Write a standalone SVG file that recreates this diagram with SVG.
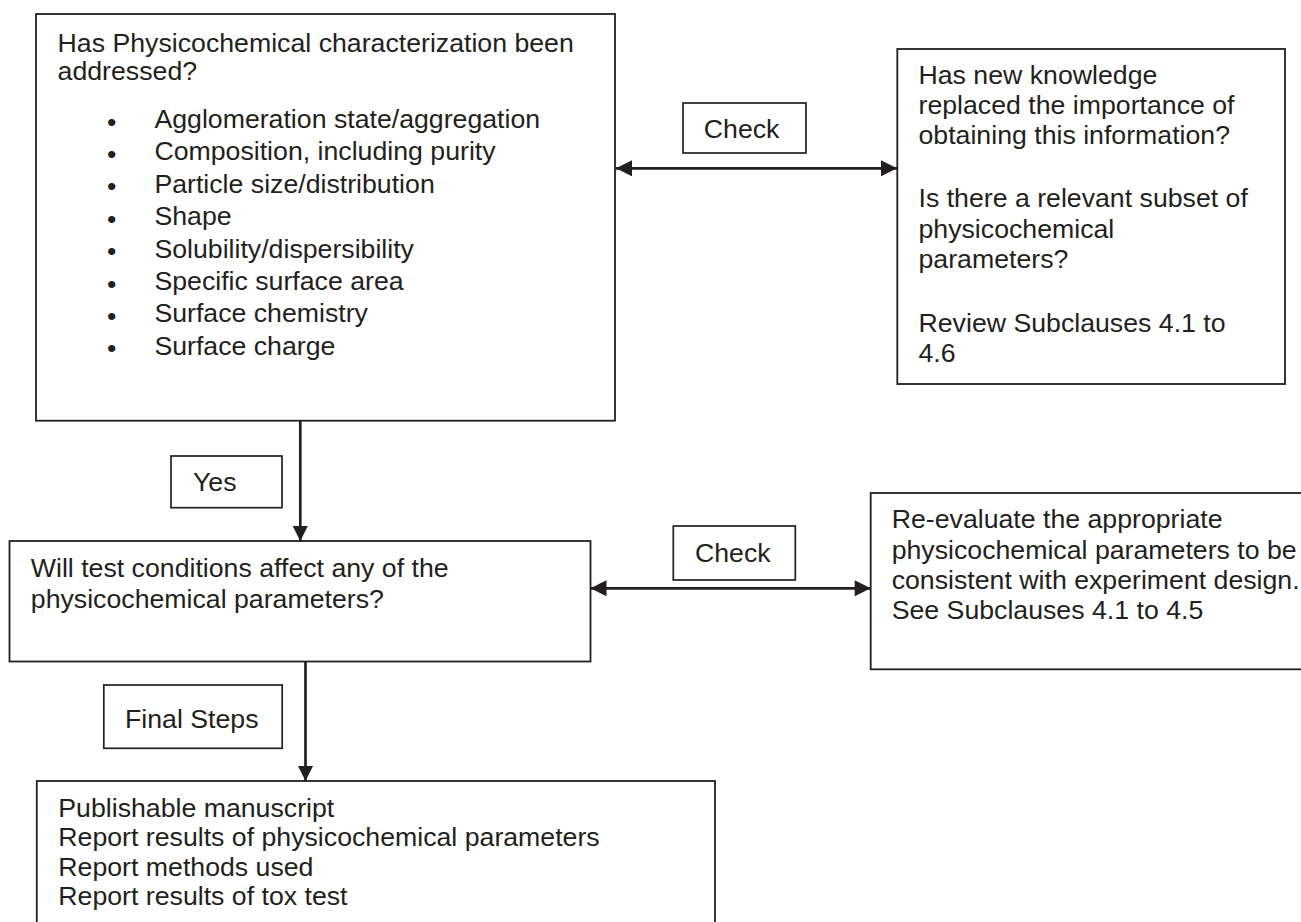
<svg xmlns="http://www.w3.org/2000/svg" width="1301" height="922" viewBox="0 0 1301 922">
<style>
.box{fill:#fff;stroke:#231f20;stroke-width:1.8}
.lbl{fill:#fff;stroke:#231f20;stroke-width:1.7}
.t{font-family:"Liberation Sans",Arial,Helvetica,sans-serif;font-size:26.7px;fill:#231f20}
.c{stroke:#231f20;stroke-width:2.7;fill:none}
</style>
<defs>
<marker id="ah" viewBox="0 0 10 10" refX="10" refY="5" markerUnits="userSpaceOnUse" markerWidth="17" markerHeight="16" orient="auto-start-reverse">
<path d="M0,0 L10,5 L0,10 z" fill="#231f20"/>
</marker>
<marker id="av" viewBox="0 0 10 10" refX="10" refY="5" markerUnits="userSpaceOnUse" markerWidth="15" markerHeight="15.4" orient="auto">
<path d="M0,0 L10,5 L0,10 z" fill="#231f20"/>
</marker>
</defs>
<rect width="1301" height="922" fill="#fff"/>
<g id="connectors">
<line class="c" x1="616" y1="168.3" x2="897" y2="168.3" marker-start="url(#ah)" marker-end="url(#ah)"/>
<line class="c" x1="590.5" y1="588.3" x2="870.7" y2="588.3" marker-start="url(#ah)" marker-end="url(#ah)"/>
<line class="c" x1="300.3" y1="421" x2="300.3" y2="541" marker-end="url(#av)"/>
<line class="c" x1="305.5" y1="661.5" x2="305.5" y2="781" marker-end="url(#av)"/>
</g>
<g id="node-physchem">
<rect class="box" x="36" y="14" width="579" height="406.7"/>
<text class="t" x="57.6" y="51.7">Has Physicochemical characterization been</text>
<text class="t" x="57.6" y="80">addressed?</text>
<g class="t" text-anchor="middle">
<text x="111.7" y="130.5">•</text>
<text x="111.7" y="162.9">•</text>
<text x="111.7" y="195.3">•</text>
<text x="111.7" y="227.7">•</text>
<text x="111.7" y="260.1">•</text>
<text x="111.7" y="292.5">•</text>
<text x="111.7" y="324.9">•</text>
<text x="111.7" y="357.3">•</text>
</g>
<text class="t" x="154.4" y="128">Agglomeration state/aggregation</text>
<text class="t" x="154.4" y="160.4">Composition, including purity</text>
<text class="t" x="154.4" y="192.8">Particle size/distribution</text>
<text class="t" x="154.4" y="225.2">Shape</text>
<text class="t" x="154.4" y="257.6">Solubility/dispersibility</text>
<text class="t" x="154.4" y="290">Specific surface area</text>
<text class="t" x="154.4" y="322.4">Surface chemistry</text>
<text class="t" x="154.4" y="354.8">Surface charge</text>
</g>
<g id="label-check-1">
<rect class="lbl" x="683" y="103" width="123" height="50"/>
<text class="t" x="703.8" y="138.3">Check</text>
</g>
<g id="node-knowledge">
<rect class="box" x="897.3" y="49" width="387.7" height="335"/>
<text class="t" x="918.5" y="84">Has new knowledge</text>
<text class="t" x="918.5" y="114">replaced the importance of</text>
<text class="t" x="918.5" y="143.5">obtaining this information?</text>
<text class="t" x="918.5" y="207">Is there a relevant subset of</text>
<text class="t" x="918.5" y="237.5">physicochemical</text>
<text class="t" x="918.5" y="268">parameters?</text>
<text class="t" x="918.5" y="331.7">Review Subclauses 4.1 to</text>
<text class="t" x="918.5" y="362">4.6</text>
</g>
<g id="label-yes">
<rect class="lbl" x="171" y="456" width="111" height="51.7"/>
<text class="t" x="193" y="491">Yes</text>
</g>
<g id="node-testconditions">
<rect class="box" x="9.5" y="541" width="581" height="120.5"/>
<text class="t" x="30.8" y="576.7">Will test conditions affect any of the</text>
<text class="t" x="30.8" y="608">physicochemical parameters?</text>
</g>
<g id="label-check-2">
<rect class="lbl" x="673.3" y="526" width="122" height="54"/>
<text class="t" x="695" y="561.7">Check</text>
</g>
<g id="node-reevaluate">
<rect class="box" x="870.7" y="493" width="470" height="176.3"/>
<text class="t" x="891.7" y="527.5">Re-evaluate the appropriate</text>
<text class="t" x="891.7" y="558.5">physicochemical parameters to be</text>
<text class="t" x="891.7" y="589">consistent with experiment design.</text>
<text class="t" x="891.7" y="619">See Subclauses 4.1 to 4.5</text>
</g>
<g id="label-final">
<rect class="lbl" x="103.8" y="685" width="178.4" height="63.3"/>
<text class="t" x="125" y="728.3">Final Steps</text>
</g>
<g id="node-final">
<rect class="box" x="36.8" y="781" width="678.2" height="200"/>
<text class="t" x="58.3" y="816.7">Publishable manuscript</text>
<text class="t" x="58.3" y="846">Report results of physicochemical parameters</text>
<text class="t" x="58.3" y="875.5">Report methods used</text>
<text class="t" x="58.3" y="905">Report results of tox test</text>
</g>
</svg>
